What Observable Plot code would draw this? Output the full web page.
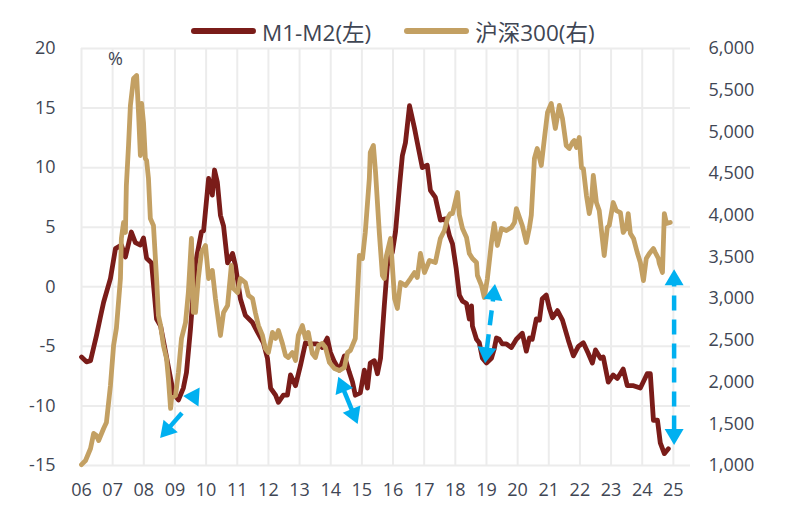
<!DOCTYPE html>
<html>
<head>
<meta charset="utf-8">
<script src="https://cdn.jsdelivr.net/npm/d3@7"></script>
<script src="https://cdn.jsdelivr.net/npm/@observablehq/plot@0.6"></script>
<style>
  html, body { margin: 0; padding: 0; background: #ffffff; }
  #wrap { position: relative; width: 795px; height: 521px; font-family: "Open Sans", "Noto Sans CJK SC", sans-serif; color: #3f4654; }
  #legend { position: absolute; top: 16px; left: 0; width: 795px; height: 30px; box-sizing: border-box; padding-left: 191px; display: flex; justify-content: flex-start; align-items: center; font-size: 22.5px; gap: 33px; }
  #legend .item { display: flex; align-items: center; white-space: nowrap; }
  #legend .sw { display: inline-block; width: 65px; height: 5.5px; border-radius: 3px; margin-right: 6px; }
</style>
</head>
<body>
<div id="wrap">
  <div id="chart"></div>
  <div id="legend"></div>
</div>
<script>
// ---------- data ----------
const seriesNames = ["M1-M2(左)", "沪深300(右)"];

const m1m2Years = [
  2006.00, 2006.16, 2006.29, 2006.39, 2006.48, 2006.61, 2006.71, 2006.93, 2007.09, 2007.28,
  2007.41, 2007.60, 2007.73, 2007.89, 2007.99, 2008.09, 2008.25, 2008.41, 2008.54, 2008.70,
  2008.86, 2008.95, 2009.11, 2009.27, 2009.37, 2009.50, 2009.66, 2009.85, 2009.92, 2010.08,
  2010.20, 2010.27, 2010.36, 2010.46, 2010.56, 2010.69, 2010.85, 2010.94, 2011.10, 2011.26,
  2011.49, 2011.65, 2011.84, 2011.97, 2012.07, 2012.23, 2012.32, 2012.48, 2012.61, 2012.71,
  2012.87, 2013.03, 2013.19, 2013.35, 2013.57, 2013.73, 2013.89, 2013.99, 2014.12, 2014.28,
  2014.44, 2014.60, 2014.70, 2014.79, 2014.95, 2015.08, 2015.18, 2015.27, 2015.40, 2015.50,
  2015.60, 2015.72, 2015.82, 2015.98, 2016.08, 2016.21, 2016.30, 2016.40, 2016.53, 2016.69,
  2016.78, 2016.94, 2017.10, 2017.20, 2017.36, 2017.52, 2017.68, 2017.81, 2017.91, 2018.03,
  2018.13, 2018.23, 2018.36, 2018.45, 2018.52, 2018.55, 2018.68, 2018.77, 2018.87, 2019.00,
  2019.16, 2019.25, 2019.32, 2019.41, 2019.51, 2019.64, 2019.80, 2019.96, 2020.15, 2020.28,
  2020.38, 2020.47, 2020.60, 2020.70, 2020.79, 2020.92, 2021.02, 2021.12, 2021.28, 2021.44,
  2021.63, 2021.79, 2021.95, 2022.11, 2022.27, 2022.40, 2022.50, 2022.66, 2022.75, 2022.91,
  2023.07, 2023.20, 2023.39, 2023.52, 2023.72, 2023.94, 2024.16, 2024.26, 2024.36, 2024.49,
  2024.58, 2024.71, 2024.84
];
const m1m2Values = [
  -5.9, -6.3, -6.2, -5.1, -4.1, -2.5, -1.3, 0.7, 3.2, 3.5,
  2.5, 4.6, 3.7, 3.5, 4.1, 2.4, 2.0, -2.7, -3.3, -5.5,
  -7.7, -8.9, -9.5, -8.5, -7.2, -3.5, 2.0, 4.6, 4.7, 9.1,
  7.7, 9.8, 8.8, 6.0, 5.1, 2.0, 2.8, 1.8, -1.0, -2.4,
  -3.0, -3.8, -4.7, -6.0, -8.5, -9.1, -9.7, -9.1, -9.1, -7.4,
  -8.3, -6.6, -4.7, -4.8, -4.8, -5.1, -4.3, -5.5, -6.3, -7.0,
  -5.8, -7.2, -8.0, -9.1, -8.9, -7.0, -8.5, -6.4, -6.2, -7.3,
  -6.0, -1.6, 1.8, 2.9, 4.6, 8.5, 11.0, 12.1, 15.2, 13.3,
  12.1, 10.0, 10.2, 8.1, 7.5, 5.6, 5.7, 4.3, 3.6, 1.5,
  -0.7, -1.2, -1.4, -2.7, -1.6, -3.3, -4.4, -4.7, -6.0, -6.4,
  -6.0, -5.2, -4.3, -4.4, -4.8, -4.8, -5.1, -4.4, -3.9, -5.4,
  -4.3, -4.4, -2.7, -2.8, -1.0, -0.7, -1.8, -2.6, -2.0, -2.8,
  -4.5, -5.8, -5.0, -4.7, -5.6, -6.4, -5.3, -6.0, -5.9, -8.0,
  -7.4, -7.7, -6.9, -8.3, -8.3, -8.5, -7.3, -7.3, -11.2, -11.2,
  -13.1, -14.0, -13.6
];

const csiYears = [
  2006.00, 2006.13, 2006.29, 2006.39, 2006.48, 2006.55, 2006.71, 2006.80, 2006.93, 2007.03,
  2007.12, 2007.25, 2007.28, 2007.35, 2007.41, 2007.44, 2007.51, 2007.57, 2007.67, 2007.77,
  2007.83, 2007.89, 2007.93, 2007.99, 2008.05, 2008.09, 2008.15, 2008.21, 2008.31, 2008.41,
  2008.47, 2008.54, 2008.63, 2008.73, 2008.79, 2008.86, 2008.89, 2009.02, 2009.11, 2009.21,
  2009.34, 2009.43, 2009.53, 2009.59, 2009.66, 2009.75, 2009.85, 2009.98, 2010.08, 2010.20,
  2010.30, 2010.46, 2010.56, 2010.69, 2010.81, 2010.88, 2011.01, 2011.10, 2011.26, 2011.36,
  2011.49, 2011.58, 2011.68, 2011.81, 2011.90, 2012.00, 2012.13, 2012.23, 2012.32, 2012.45,
  2012.55, 2012.64, 2012.77, 2012.87, 2012.96, 2013.09, 2013.19, 2013.28, 2013.41, 2013.51,
  2013.61, 2013.73, 2013.83, 2013.96, 2014.12, 2014.28, 2014.44, 2014.54, 2014.63, 2014.79,
  2014.92, 2015.02, 2015.11, 2015.24, 2015.27, 2015.37, 2015.44, 2015.56, 2015.66, 2015.72,
  2015.79, 2015.92, 2016.05, 2016.14, 2016.24, 2016.40, 2016.56, 2016.69, 2016.78, 2016.88,
  2017.01, 2017.17, 2017.36, 2017.52, 2017.65, 2017.75, 2017.84, 2017.91, 2018.07, 2018.13,
  2018.23, 2018.36, 2018.45, 2018.55, 2018.68, 2018.71, 2018.84, 2018.93, 2019.03, 2019.16,
  2019.25, 2019.35, 2019.48, 2019.64, 2019.80, 2019.90, 2019.96, 2020.06, 2020.15, 2020.28,
  2020.38, 2020.44, 2020.54, 2020.63, 2020.76, 2020.86, 2020.96, 2021.08, 2021.21, 2021.34,
  2021.44, 2021.56, 2021.66, 2021.76, 2021.82, 2021.89, 2021.98, 2022.05, 2022.11, 2022.21,
  2022.30, 2022.37, 2022.43, 2022.53, 2022.62, 2022.72, 2022.78, 2022.88, 2022.94, 2023.07,
  2023.17, 2023.30, 2023.39, 2023.49, 2023.55, 2023.62, 2023.72, 2023.84, 2023.94, 2024.04,
  2024.13, 2024.23, 2024.36, 2024.42, 2024.52, 2024.55, 2024.65, 2024.71, 2024.78, 2024.90
];
const csiValues = [
  1010, 1060, 1204, 1384, 1360, 1300, 1444, 1516, 1960, 2439,
  2643, 3242, 3722, 3914, 3794, 4357, 4837, 5317, 5640, 5676,
  5233, 4717, 5341, 5113, 4681, 4657, 4441, 3962, 3878, 3242,
  2798, 2678, 2439, 2283, 2043, 1684, 1804, 1840, 2115, 2523,
  2715, 3074, 3722, 2835, 2835, 3242, 3554, 3638, 3242, 3338,
  3002, 2559, 2835, 2919, 3398, 3122, 3074, 3242, 3194, 3038,
  3002, 2835, 2678, 2559, 2403, 2355, 2595, 2523, 2619, 2463,
  2319, 2295, 2355, 2259, 2559, 2678, 2523, 2595, 2343, 2295,
  2439, 2463, 2415, 2235, 2163, 2139, 2175, 2355, 2379, 2523,
  3518, 3482, 3794, 4441, 4753, 4837, 4513, 3794, 3278, 3242,
  3518, 3722, 3002, 2883, 3194, 3158, 3242, 3314, 3254, 3542,
  3314, 3458, 3434, 3722, 3818, 3962, 4021, 4021, 4273, 4003,
  3842, 3734, 3542, 3482, 3434, 3278, 3158, 3014, 3242, 3674,
  3902, 3638, 3842, 3818, 3854, 3914, 4081, 3974, 3878, 3674,
  3854, 4003, 4681, 4801, 4597, 4921, 5233, 5341, 5041, 5317,
  5161, 4837, 4801, 4873, 4897, 4813, 4933, 4573, 4561, 4237,
  4021, 4153, 4477, 4153, 4057, 3722, 3518, 3854, 3878, 4153,
  4057, 4033, 3794, 3854, 4021, 3782, 3722, 3554, 3434, 3218,
  3482, 3542, 3602, 3554, 3482, 3422, 3314, 4021, 3902, 3914
];

const yearTicks = [2006, 2007, 2008, 2009, 2010, 2011, 2012, 2013, 2014, 2015, 2016, 2017, 2018, 2019, 2020, 2021, 2022, 2023, 2024, 2025];
const leftTicks = [-15, -10, -5, 0, 5, 10, 15, 20];
const rightTicks = [1000, 1500, 2000, 2500, 3000, 3500, 4000, 4500, 5000, 5500, 6000];
const unitLabel = "%";

// annotation arrows (data units: year, left-axis value)
const arrowTailYear  = [2009.24, 2009.79, 2014.26, 2018.97, 2025.04];
const arrowTailValue = [-10.64, -9.29, -7.59, -6.47, -13.32];
const arrowTipYear   = [2008.54, 2009.28, 2014.88, 2019.29, 2025.04];
const arrowTipValue  = [-12.73, -9.21, -11.56, 0.19, 1.42];
const arrowBothEnds  = [false, false, true, true, true];
const arrowDashed    = [false, false, false, true, true];

// ---------- build ----------
const leftDomain = [-15, 20];
const rightDomain = [1000, 6000];
const toLeft = c => leftDomain[0] + (c - rightDomain[0]) * (leftDomain[1] - leftDomain[0]) / (rightDomain[1] - rightDomain[0]);
const toRight = v => rightDomain[0] + (v - leftDomain[0]) * (rightDomain[1] - rightDomain[0]) / (leftDomain[1] - leftDomain[0]);

const m1m2 = m1m2Years.map((y, i) => ({year: y, value: m1m2Values[i]}));
const csi = csiYears.map((y, i) => ({year: y, value: toLeft(csiValues[i])}));
const arrows = arrowTailYear.map((y, i) => ({
  x1: y, y1: arrowTailValue[i], x2: arrowTipYear[i], y2: arrowTipValue[i],
  both: arrowBothEnds[i], dashed: arrowDashed[i]
}));

const COLORS = {m1m2: "#7A1C19", csi: "#C3A063", arrow: "#00B0F0", grid: "#ECECEC", text: "#3f4654"};

function arrowMark(index, scales, values, dimensions) {
  const sx = scales.x, sy = scales.y;
  const g = d3.create("svg:g");
  const H = 16, W = 9.5;
  for (const a of arrows) {
    const p1 = [sx(a.x1), sy(a.y1)], p2 = [sx(a.x2), sy(a.y2)];
    const dx = p2[0] - p1[0], dy = p2[1] - p1[1];
    const L = Math.hypot(dx, dy);
    const ux = dx / L, uy = dy / L;
    const h = Math.min(H, L);
    const head = (tip, ex, ey) => {
      const bx = tip[0] - ex * h, by = tip[1] - ey * h;
      return [[tip[0], tip[1]], [bx - ey * W, by + ex * W], [bx + ey * W, by - ex * W]];
    };
    const s0 = a.both ? [p1[0] + ux * h * 0.9, p1[1] + uy * h * 0.9] : p1;
    const s1 = [p2[0] - ux * h * 0.9, p2[1] - uy * h * 0.9];
    if (L > h + 1) {
      g.append("line")
        .attr("x1", s0[0]).attr("y1", s0[1]).attr("x2", s1[0]).attr("y2", s1[1])
        .attr("stroke", COLORS.arrow).attr("stroke-width", 4.5)
        .attr("stroke-dasharray", a.dashed ? "15,9" : null);
    }
    g.append("polygon").attr("points", head(p2, ux, uy).map(p => p.join(",")).join(" ")).attr("fill", COLORS.arrow);
    if (a.both) {
      g.append("polygon").attr("points", head(p1, -ux, -uy).map(p => p.join(",")).join(" ")).attr("fill", COLORS.arrow);
    }
  }
  return g.node();
}

const chart = Plot.plot({
  width: 795,
  height: 521,
  marginLeft: 81,
  marginRight: 105,
  marginTop: 48,
  marginBottom: 56,
  style: {fontFamily: '"Open Sans", "Noto Sans CJK SC", sans-serif', fontSize: "18px", color: COLORS.text, background: "#ffffff", overflow: "visible"},
  x: {domain: [2006, 2025.55]},
  y: {domain: leftDomain},
  marks: [
    Plot.gridX(yearTicks, {stroke: COLORS.grid, strokeOpacity: 1, strokeWidth: 2}),
    Plot.gridY(leftTicks, {stroke: COLORS.grid, strokeOpacity: 1, strokeWidth: 2}),
    Plot.axisX(yearTicks, {tickSize: 0, tickPadding: 18, tickFormat: d => String(d).slice(2), label: null, fontSize: 18}),
    Plot.axisY(leftTicks, {anchor: "left", tickSize: 0, tickPadding: 26, tickFormat: d => String(d), label: null, fontSize: 18}),
    Plot.axisY(rightTicks.map(toLeft), {anchor: "right", tickSize: 0, tickPadding: 18, tickFormat: d => d3.format(",")(Math.round(toRight(d))), label: null, fontSize: 18}),
    Plot.line(m1m2, {x: "year", y: "value", stroke: COLORS.m1m2, strokeWidth: 4.8, strokeLinejoin: "round", strokeLinecap: "round"}),
    Plot.line(csi, {x: "year", y: "value", stroke: COLORS.csi, strokeWidth: 4.8, strokeLinejoin: "round", strokeLinecap: "round"}),
    arrowMark,
    Plot.text([unitLabel], {text: d => d, frameAnchor: "top-left", dx: 34, dy: 11, textAnchor: "middle", lineAnchor: "middle", fontSize: 18, fill: COLORS.text})
  ]
});
document.getElementById("chart").appendChild(chart);

// legend
const legend = d3.select("#legend");
[[seriesNames[0], COLORS.m1m2], [seriesNames[1], COLORS.csi]].forEach(([name, color]) => {
  const item = legend.append("span").attr("class", "item");
  item.append("span").attr("class", "sw").style("background", color);
  item.append("span").text(name);
});
</script>
</body>
</html>
